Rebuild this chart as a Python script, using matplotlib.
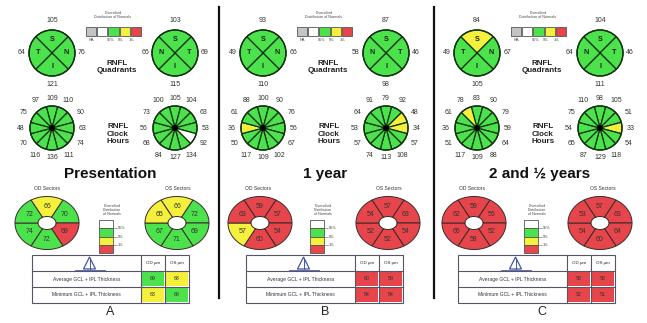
import numpy as np
import matplotlib
matplotlib.use("Agg")
import matplotlib.pyplot as plt
from matplotlib.patches import Wedge, Polygon, Rectangle, Circle

plt.rcParams['font.family'] = ['Liberation Sans', 'DejaVu Sans']

# ---------------- data ----------------
panel_letters = ["A", "B", "C"]
panel_titles = ["Presentation", "1 year", "2 and \u00bd years"]

# RNFL quadrants: order top, right, bottom, left
quad_od_labels = ["S", "N", "I", "T"]
quad_os_labels = ["S", "T", "I", "N"]
quad_od_vals = [[105, 76, 121, 64], [93, 66, 110, 49], [84, 67, 105, 49]]
quad_od_stat = [["g", "g", "g", "g"], ["g", "g", "g", "g"], ["y", "g", "g", "g"]]
quad_os_vals = [[103, 69, 115, 66], [87, 46, 98, 58], [104, 46, 111, 64]]
quad_os_stat = [["g", "g", "g", "g"], ["g", "g", "g", "g"], ["g", "g", "g", "g"]]

# RNFL clock hours: 12, 1, 2, ... 11
clock_od_vals = [[109, 110, 90, 63, 74, 111, 136, 116, 70, 48, 75, 97],
                 [100, 90, 76, 56, 67, 102, 109, 117, 50, 36, 61, 88],
                 [83, 90, 79, 59, 64, 88, 109, 117, 51, 36, 61, 78]]
clock_od_stat = [["g"] * 12,
                 ["g"] * 9 + ["y"] + ["g"] * 2,
                 ["g"] * 11 + ["y"]]
clock_os_vals = [[105, 104, 63, 53, 92, 134, 127, 84, 68, 56, 73, 100],
                 [79, 92, 48, 34, 57, 108, 113, 74, 57, 53, 64, 91],
                 [98, 105, 51, 33, 54, 118, 129, 87, 65, 54, 75, 110]]
clock_os_stat = [["g"] * 4 + ["w"] + ["g"] * 7,
                 ["g", "g", "y", "y"] + ["g"] * 8,
                 ["g"] * 3 + ["y"] + ["g"] * 8]

# GCL+IPL sectors: top, upper-right, lower-right, bottom, lower-left, upper-left
sect_od_vals = [[66, 70, 69, 72, 74, 72], [59, 57, 54, 60, 57, 63], [59, 56, 52, 58, 65, 62]]
sect_od_stat = [["y", "g", "r", "g", "g", "g"], ["r", "r", "r", "r", "y", "r"], ["r"] * 6]
sect_os_vals = [[66, 72, 69, 71, 67, 65], [57, 63, 54, 52, 52, 54], [57, 63, 64, 60, 54, 53]]
sect_os_stat = [["y", "g", "g", "g", "g", "y"], ["r"] * 6, ["r"] * 6]

# table
table_rows = ["Average GCL + IPL Thickness", "Minimum GCL + IPL Thickness"]
table_cols = ["OD \u00b5m", "OS \u00b5m"]
table_vals = [[[69, 68], [63, 68]], [[60, 59], [54, 54]], [[58, 58], [52, 51]]]
table_stat = [[["g", "y"], ["y", "g"]], [["r", "r"], ["r", "r"]], [["r", "r"], ["r", "r"]]]

legend_top_labels = ["NA", "95%", "5%", "1%"]
legend_mid_labels = ["95%", "5%", "1%"]

# ---------------- style ----------------
COL = {"g": "#4ce24c", "y": "#f4f03c", "r": "#e6464b", "w": "#ffffff", "n": "#c4c4c4"}

W, H = 647, 323
fig = plt.figure(figsize=(W / 100, H / 100), dpi=100)
ax = fig.add_axes([0, 0, 1, 1])
ax.set_xlim(0, W)
ax.set_ylim(H, 0)
ax.axis("off")


def wedge(cx, cy, r, t1, t2, fc):
    # angles in screen sense (counter-clockwise, 0 = right); y axis is inverted
    ax.add_patch(Wedge((cx, cy), r, -t2, -t1, facecolor=fc, edgecolor="#113311", lw=0.9))


def txt(x, y, s, size=5, **kw):
    kw.setdefault("ha", "center")
    kw.setdefault("va", "center")
    ax.text(x, y, s, fontsize=size, **kw)


def quad_circle(cx, cy, vals, stat, labels):
    r = 23
    centers = [90, 0, 270, 180]
    for c, v, s, lab in zip(centers, vals, stat, labels):
        wedge(cx, cy, r, c - 45, c + 45, COL[s])
        t = np.deg2rad(c)
        txt(cx + 0.6 * r * np.cos(t), cy - 0.6 * r * np.sin(t), lab, 5.2, weight="bold", color="#222222")
    ax.add_patch(Circle((cx, cy), r, fill=False, edgecolor="#113311", lw=1.0))
    offs = [(0, -33), (30, 0), (0, 31), (-30, 0)]
    for (dx, dy), v in zip(offs, vals):
        txt(cx + dx, cy + dy, str(v), 5, color="#333333")


def clock_circle(cx, cy, vals, stat):
    r = 22
    for k, (v, s) in enumerate(zip(vals, stat)):
        c = 90 - 30 * k
        wedge(cx, cy, r, c - 15, c + 15, COL[s])
        t = np.deg2rad(c)
        rr = 33 if k % 3 else 31
        txt(cx + rr * np.cos(t), cy - rr * np.sin(t) * 0.95, str(v), 5, color="#333333")
    ax.add_patch(Circle((cx, cy), r, fill=False, edgecolor="#113311", lw=1.0))
    ax.add_patch(Circle((cx, cy), 2.2, color="black"))


def sector_ring(cx, cy, vals, stat):
    a, b, ai, bi = 32, 26.5, 9, 6.5
    spans = [(60, 120), (0, 60), (-60, 0), (-120, -60), (180, 240), (120, 180)]
    for (t1, t2), v, s in zip(spans, vals, stat):
        ts = np.deg2rad(np.linspace(t1, t2, 30))
        xo, yo = cx + a * np.cos(ts), cy - b * np.sin(ts)
        xi, yi = cx + ai * np.cos(ts[::-1]), cy - bi * np.sin(ts[::-1])
        pts = np.column_stack([np.r_[xo, xi], np.r_[yo, yi]])
        ax.add_patch(Polygon(pts, closed=True, facecolor=COL[s], edgecolor="#3a2a2a", lw=0.7))
        tm = np.deg2rad((t1 + t2) / 2)
        txt(cx + 0.63 * a * np.cos(tm), cy - 0.63 * b * np.sin(tm), str(v), 5, color="#333333")


for p in range(3):
    ox = [0, 211, 425][p]
    # quadrant circles
    quad_circle(52 + ox, 53, quad_od_vals[p], quad_od_stat[p], quad_od_labels)
    quad_circle(175 + ox, 53, quad_os_vals[p], quad_os_stat[p], quad_os_labels)
    # top legend
    txt(113 + ox, 15, "Diversified\nDistribution of Normals", 2.6, color="#444444", linespacing=1.0)
    for i, s in enumerate(["n", "w", "g", "y", "r"]):
        ax.add_patch(Rectangle((86 + ox + i * 11.2, 27), 10.2, 8.5, facecolor=COL[s],
                               edgecolor="#555555", lw=0.6))
    for lab, lx in zip(legend_top_labels, [91, 111, 121, 132]):
        txt(lx + ox, 40, lab, 2.8, color="#444444")
    txt(117 + ox, 67, "RNFL\nQuadrants", 5.8, weight="bold", color="#222222", linespacing=1.1)
    # clock hours
    clock_circle(52 + ox, 128, clock_od_vals[p], clock_od_stat[p])
    clock_circle(175 + ox, 128, clock_os_vals[p], clock_os_stat[p])
    txt(118 + ox, 134, "RNFL\nClock\nHours", 5.8, weight="bold", color="#222222", linespacing=1.1)
    # title
    txt([110, 325, 540][p], 174, panel_titles[p], 11, weight="bold", color="#111111")
    # sectors
    txt(47 + ox, 189, "OD Sectors", 3.6, color="#333333")
    txt(178 + ox, 189, "OS Sectors", 3.6, color="#333333")
    sector_ring(47 + ox + (2 if p else 0), 223, sect_od_vals[p], sect_od_stat[p])
    sector_ring(177 + ox + (-2 if p == 2 else 0), 223, sect_os_vals[p], sect_os_stat[p])
    # middle legend
    txt(112 + ox, 210, "Diversified\nDistribution\nof Normals", 2.6, color="#444444", linespacing=1.0)
    for i, s in enumerate(["w", "g", "y", "r"]):
        ax.add_patch(Rectangle((99 + ox, 220 + i * 8.3), 14, 8.3, facecolor=COL[s],
                               edgecolor="#555555", lw=0.6))
    for i, lab in enumerate(legend_mid_labels):
        yy = 228.3 + i * 8.3
        ax.plot([113 + ox, 117 + ox], [yy, yy], color="#666666", lw=0.4)
        txt(118 + ox, yy, lab, 2.8, color="#444444", ha="left")
    # table
    tl = [32, 246, 458][p]
    cw = [109, 24, 24]
    xs = np.cumsum([tl] + cw)
    ys = [255, 271, 287, 303]
    ax.add_patch(Rectangle((xs[0], ys[0]), xs[-1] - xs[0], ys[-1] - ys[0], fill=False,
                           edgecolor="#555566", lw=0.8))
    for yy in ys[1:-1]:
        ax.plot([xs[0], xs[-1]], [yy, yy], color="#555566", lw=0.8)
    for xx in xs[1:-1]:
        ax.plot([xx, xx], [ys[0], ys[-1]], color="#555566", lw=0.8)
    for j, ch in enumerate(table_cols):
        txt((xs[j + 1] + xs[j + 2]) / 2, (ys[0] + ys[1]) / 2, ch, 3.2, color="#222222")
    for i, rl in enumerate(table_rows):
        yc = (ys[i + 1] + ys[i + 2]) / 2
        txt((xs[0] + xs[1]) / 2, yc, rl, 3.6, color="#333333")
        for j in range(2):
            ax.add_patch(Rectangle((xs[j + 1] + 1.2, ys[i + 1] + 1.2), cw[j + 1] - 2.4,
                                   ys[i + 2] - ys[i + 1] - 2.4,
                                   facecolor=COL[table_stat[p][i][j]], edgecolor="none"))
            txt((xs[j + 1] + xs[j + 2]) / 2, yc, str(table_vals[p][i][j]), 3.8, color="#333333")
    # warning triangle
    tx = (xs[0] + xs[1]) / 2 + 3
    ax.add_patch(Polygon([[tx - 6, 269], [tx + 6, 269], [tx, 257]], closed=True, fill=False,
                         edgecolor="#4455aa", lw=0.9))
    ax.plot([tx, tx], [258, 269], color="#4455aa", lw=0.7)
    ax.plot([tx - 15, tx + 15], [269.5, 269.5], color="#4455aa", lw=0.6)
    # letter
    txt([110, 325, 542][p], 312, panel_letters[p], 9, color="#222222")

for xv in [219, 434]:
    ax.plot([xv, xv], [7, 298], color="#111111", lw=1.6)

fig.savefig("out.png", dpi=100)
